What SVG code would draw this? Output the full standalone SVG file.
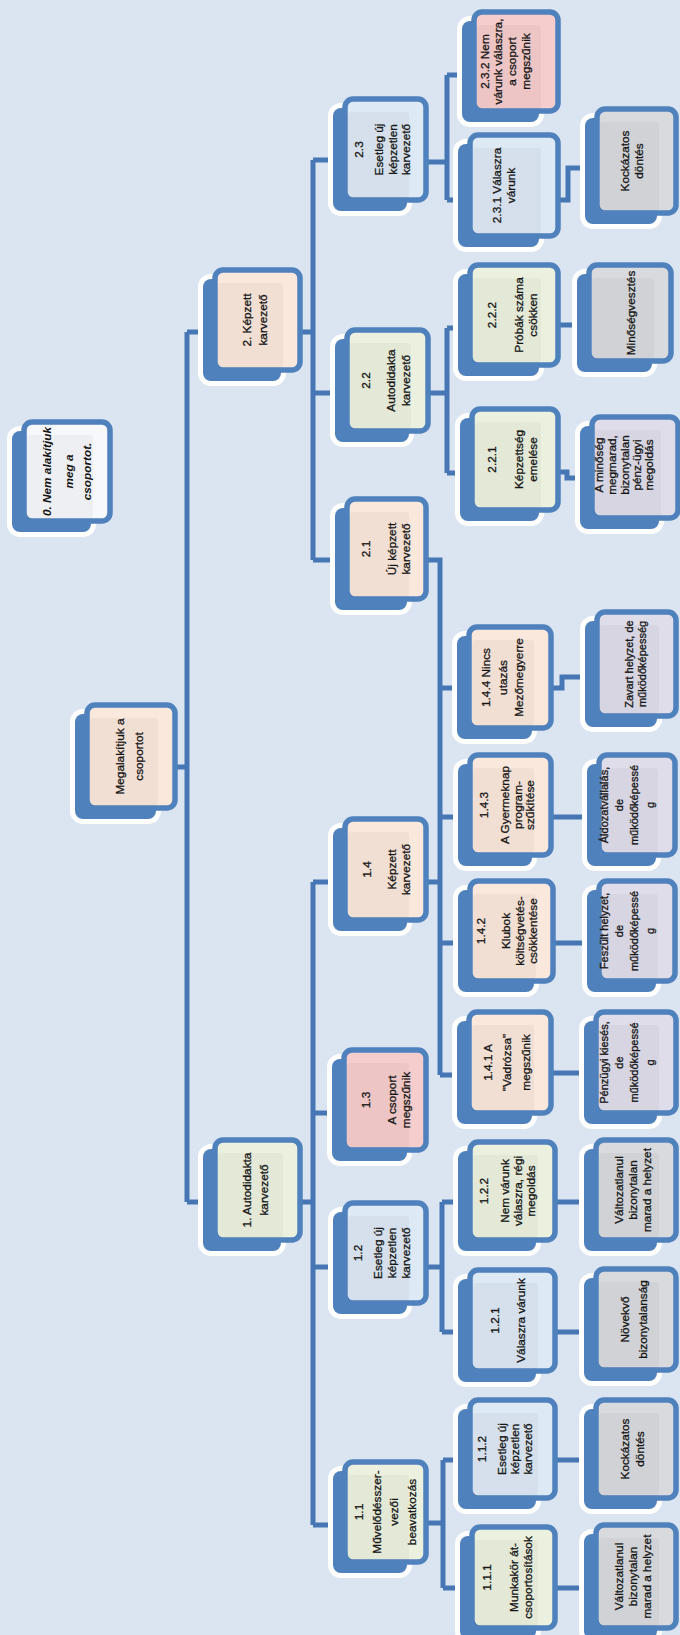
<svg xmlns="http://www.w3.org/2000/svg" width="680" height="1635" viewBox="0 0 680 1635">
<style>
.sh{fill:#4f81bd;stroke:#fff;stroke-width:10;paint-order:stroke}
.fr{stroke:#4f81bd;stroke-width:5.5}
.in{fill:#000;fill-opacity:.035}
.pe{fill:#fbe8dc}.gr{fill:#ecf1df}.bl{fill:#dde9f5}.pk{fill:#f6cdcd}.gy{fill:#d9dadd}.lv{fill:#e0ddeb}.wh{fill:#f6f8fb}
.c{fill:none;stroke:#4776b4;stroke-width:5}
text{font-family:"Liberation Sans",Arial,sans-serif;font-size:11.8px;fill:#161616;stroke:#161616;stroke-width:.3;text-anchor:middle}
.sm{font-size:11px}
.it{font-weight:bold;font-style:italic;stroke-width:0}
</style>
<rect width="680" height="1635" fill="#dbe5f1"/>
<g id="connectors" class="c">
<path d="M177,767 H187 M187,332 V1202 M187,332 H210 M187,1202 H210"/>
<path d="M302,332 H313 M313,160 V560 M313,160 H340 M313,393 H340 M313,560 H340"/>
<path d="M302,1202 H313 M313,882 V1525 M313,882 H340 M313,1113 H340 M313,1267 H340 M313,1525 H340"/>
<path d="M428,162 H447 M447,75 V200 M447,75 H465 M447,200 H465"/>
<path d="M560,200 H568 V168 H590"/>
<path d="M430,393 H447 M447,328 V473 M447,328 H465 M447,473 H465"/>
<path d="M560,325 H590"/>
<path d="M560,472 H567 V478 H590"/>
<path d="M428,560 H440 V1075 M440,688 H462 M440,817 H462 M440,943 H462 M440,1075 H462 M428,882 H440"/>
<path d="M553,688 H562 V677 H590"/>
<path d="M553,817 H590 M555,943 H590 M553,1073 H590"/>
<path d="M428,1267 H442 M442,1202 V1332 M442,1202 H462 M442,1332 H462"/>
<path d="M557,1202 H590 M557,1332 H590"/>
<path d="M428,1523 H443 M443,1460 V1588 M443,1460 H462 M443,1588 H462"/>
<path d="M557,1460 H590 M557,1588 H590"/>
</g>

<g id="n-root"><rect class="sh" x="75" y="714" width="81" height="105" rx="8"/><rect class="fr pe" x="87" y="705" width="88" height="103" rx="8"/><rect class="in" x="90" y="718" width="68" height="88" rx="3"/>
<text transform="rotate(-90)"><tspan x="-756.5" y="124">Megalakítjuk a</tspan><tspan x="-756.5" y="143">csoportot</tspan></text></g>

<g id="n-0"><rect class="sh" x="12" y="431" width="79" height="101" rx="8"/><rect class="fr wh" x="24" y="422" width="86" height="99" rx="8"/><rect class="in" x="27" y="435" width="66" height="84" rx="3"/>
<text class="it" transform="rotate(-90)"><tspan x="-471.5" y="51">0. Nem alakítjuk</tspan><tspan x="-471.5" y="73">meg a</tspan><tspan x="-471.5" y="91">csoportot.</tspan></text></g>

<g id="n-2"><rect class="sh" x="203" y="279" width="78" height="102" rx="8"/><rect class="fr pe" x="215" y="270" width="85" height="100" rx="8"/><rect class="in" x="218" y="283" width="65" height="85" rx="3"/>
<text transform="rotate(-90)"><tspan x="-320" y="251">2. Képzett</tspan><tspan x="-320" y="267">karvezető</tspan></text></g>

<g id="n-1"><rect class="sh" x="203" y="1149" width="78" height="102" rx="8"/><rect class="fr gr" x="215" y="1140" width="85" height="100" rx="8"/><rect class="in" x="218" y="1153" width="65" height="85" rx="3"/>
<text transform="rotate(-90)"><tspan x="-1190" y="251">1. Autodidakta</tspan><tspan x="-1190" y="268">karvezető</tspan></text></g>

<g id="n-2-3"><rect class="sh" x="333" y="108" width="74" height="103" rx="8"/><rect class="fr bl" x="345" y="99" width="81" height="101" rx="8"/><rect class="in" x="348" y="112" width="61" height="86" rx="3"/>
<text transform="rotate(-90)"><tspan x="-149.5" y="363">2.3</tspan><tspan x="-149.5" y="383">Esetleg új</tspan><tspan x="-149.5" y="397">képzetlen</tspan><tspan x="-149.5" y="410">karvezető</tspan></text></g>

<g id="n-2-2"><rect class="sh" x="335" y="339" width="74" height="103" rx="8"/><rect class="fr gr" x="347" y="330" width="81" height="101" rx="8"/><rect class="in" x="350" y="343" width="61" height="86" rx="3"/>
<text transform="rotate(-90)"><tspan x="-380.5" y="370">2.2</tspan><tspan x="-380.5" y="395">Autodidakta</tspan><tspan x="-380.5" y="410">karvezető</tspan></text></g>

<g id="n-2-1"><rect class="sh" x="335" y="508" width="72" height="102" rx="8"/><rect class="fr pe" x="347" y="499" width="79" height="100" rx="8"/><rect class="in" x="350" y="512" width="59" height="85" rx="3"/>
<text transform="rotate(-90)"><tspan x="-549" y="370">2.1</tspan><tspan x="-549" y="396">Új képzett</tspan><tspan x="-549" y="410">karvezető</tspan></text></g>

<g id="n-1-4"><rect class="sh" x="333" y="828" width="74" height="103" rx="8"/><rect class="fr pe" x="345" y="819" width="81" height="101" rx="8"/><rect class="in" x="348" y="832" width="61" height="86" rx="3"/>
<text transform="rotate(-90)"><tspan x="-869.5" y="371">1.4</tspan><tspan x="-869.5" y="396">Képzett</tspan><tspan x="-869.5" y="410">karvezető</tspan></text></g>

<g id="n-1-3"><rect class="sh" x="332" y="1059" width="75" height="102" rx="8"/><rect class="fr pk" x="344" y="1050" width="82" height="100" rx="8"/><rect class="in" x="347" y="1063" width="62" height="85" rx="3"/>
<text transform="rotate(-90)"><tspan x="-1100" y="370">1.3</tspan><tspan x="-1100" y="396">A csoport</tspan><tspan x="-1100" y="410">megszűnik</tspan></text></g>

<g id="n-1-2"><rect class="sh" x="333" y="1212" width="74" height="102" rx="8"/><rect class="fr bl" x="345" y="1203" width="81" height="100" rx="8"/><rect class="in" x="348" y="1216" width="61" height="85" rx="3"/>
<text transform="rotate(-90)"><tspan x="-1253" y="362">1.2</tspan><tspan x="-1253" y="382">Esetleg új</tspan><tspan x="-1253" y="396">képzetlen</tspan><tspan x="-1253" y="410">karvezető</tspan></text></g>

<g id="n-1-1"><rect class="sh" x="333" y="1471" width="74" height="102" rx="8"/><rect class="fr gr" x="345" y="1462" width="81" height="100" rx="8"/><rect class="in" x="348" y="1475" width="61" height="85" rx="3"/>
<text transform="rotate(-90)"><tspan x="-1512" y="363">1.1</tspan><tspan x="-1512" y="381">Művelődésszer-</tspan><tspan x="-1512" y="398">vezői</tspan><tspan x="-1512" y="416">beavatkozás</tspan></text></g>

<g id="n-2-3-2"><rect class="sh" x="462" y="21" width="77" height="101" rx="8"/><rect class="fr pk" x="474" y="12" width="84" height="99" rx="8"/><rect class="in" x="477" y="25" width="64" height="84" rx="3"/>
<text transform="rotate(-90)"><tspan x="-61.5" y="489">2.3.2  Nem</tspan><tspan x="-61.5" y="502">várunk válaszra,</tspan><tspan x="-61.5" y="516">a csoport</tspan><tspan x="-61.5" y="530">megszűnik</tspan></text></g>

<g id="n-2-3-1"><rect class="sh" x="458" y="144" width="81" height="103" rx="8"/><rect class="fr bl" x="470" y="135" width="88" height="101" rx="8"/><rect class="in" x="473" y="148" width="68" height="86" rx="3"/>
<text transform="rotate(-90)"><tspan x="-185.5" y="501">2.3.1 Válaszra</tspan><tspan x="-185.5" y="515">várunk</tspan></text></g>

<g id="n-2-2-2"><rect class="sh" x="458" y="274" width="81" height="102" rx="8"/><rect class="fr gr" x="470" y="265" width="88" height="100" rx="8"/><rect class="in" x="473" y="278" width="68" height="85" rx="3"/>
<text transform="rotate(-90)"><tspan x="-315" y="496">2.2.2</tspan><tspan x="-315" y="523">Próbák száma</tspan><tspan x="-315" y="537">csökken</tspan></text></g>

<g id="n-2-2-1"><rect class="sh" x="460" y="418" width="79" height="103" rx="8"/><rect class="fr gr" x="472" y="409" width="86" height="101" rx="8"/><rect class="in" x="475" y="422" width="66" height="86" rx="3"/>
<text transform="rotate(-90)"><tspan x="-459.5" y="496">2.2.1</tspan><tspan x="-459.5" y="523">Képzettség</tspan><tspan x="-459.5" y="537">emelése</tspan></text></g>

<g id="n-1-4-4"><rect class="sh" x="457" y="636" width="75" height="103" rx="8"/><rect class="fr pe" x="469" y="627" width="82" height="101" rx="8"/><rect class="in" x="472" y="640" width="62" height="86" rx="3"/>
<text transform="rotate(-90)"><tspan x="-677.5" y="490">1.4.4 Nincs</tspan><tspan x="-677.5" y="507">utazás</tspan><tspan x="-677.5" y="523">Mezőmegyerre</tspan></text></g>

<g id="n-1-4-3"><rect class="sh" x="458" y="764" width="74" height="102" rx="8"/><rect class="fr pe" x="470" y="755" width="81" height="100" rx="8"/><rect class="in" x="473" y="768" width="61" height="85" rx="3"/>
<text transform="rotate(-90)"><tspan x="-805" y="488">1.4.3</tspan><tspan x="-805" y="509">A Gyermeknap</tspan><tspan x="-805" y="522">program-</tspan><tspan x="-805" y="534">szűkítése</tspan></text></g>

<g id="n-1-4-2"><rect class="sh" x="458" y="890" width="76" height="102" rx="8"/><rect class="fr pe" x="470" y="881" width="83" height="100" rx="8"/><rect class="in" x="473" y="894" width="63" height="85" rx="3"/>
<text transform="rotate(-90)"><tspan x="-931" y="485">1.4.2</tspan><tspan x="-931" y="510">Klubok</tspan><tspan x="-931" y="524">költségvetés-</tspan><tspan x="-931" y="537">csökkentése</tspan></text></g>

<g id="n-1-4-1"><rect class="sh" x="457" y="1021" width="75" height="103" rx="8"/><rect class="fr pe" x="469" y="1012" width="82" height="101" rx="8"/><rect class="in" x="472" y="1025" width="62" height="86" rx="3"/>
<text transform="rotate(-90)"><tspan x="-1062.5" y="492">1.4.1 A</tspan><tspan x="-1062.5" y="511">"Vadrózsa"</tspan><tspan x="-1062.5" y="530">megszűnik</tspan></text></g>

<g id="n-1-2-2"><rect class="sh" x="458" y="1151" width="78" height="100" rx="8"/><rect class="fr gr" x="470" y="1142" width="85" height="98" rx="8"/><rect class="in" x="473" y="1155" width="65" height="83" rx="3"/>
<text transform="rotate(-90)"><tspan x="-1191" y="488">1.2.2</tspan><tspan x="-1191" y="509">Nem várunk</tspan><tspan x="-1191" y="522">válaszra, régi</tspan><tspan x="-1191" y="535">megoldás</tspan></text></g>

<g id="n-1-2-1"><rect class="sh" x="458" y="1279" width="78" height="103" rx="8"/><rect class="fr bl" x="470" y="1270" width="85" height="101" rx="8"/><rect class="in" x="473" y="1283" width="65" height="86" rx="3"/>
<text transform="rotate(-90)"><tspan x="-1320.5" y="499">1.2.1</tspan><tspan x="-1320.5" y="525">Válaszra várunk</tspan></text></g>

<g id="n-1-1-2"><rect class="sh" x="458" y="1409" width="78" height="100" rx="8"/><rect class="fr bl" x="470" y="1400" width="85" height="98" rx="8"/><rect class="in" x="473" y="1413" width="65" height="83" rx="3"/>
<text transform="rotate(-90)"><tspan x="-1449" y="486">1.1.2</tspan><tspan x="-1449" y="506">Esetleg új</tspan><tspan x="-1449" y="519">képzetlen</tspan><tspan x="-1449" y="532">karvezető</tspan></text></g>

<g id="n-1-1-1"><rect class="sh" x="460" y="1536" width="76" height="103" rx="8"/><rect class="fr gr" x="472" y="1527" width="83" height="101" rx="8"/><rect class="in" x="475" y="1540" width="63" height="86" rx="3"/>
<text transform="rotate(-90)"><tspan x="-1577.5" y="491">1.1.1</tspan><tspan x="-1577.5" y="518">Munkakör át-</tspan><tspan x="-1577.5" y="532">csoportosítások</tspan></text></g>

<g id="r-2-3-1"><rect class="sh" x="585" y="118" width="72" height="106" rx="8"/><rect class="fr gy" x="597" y="109" width="79" height="104" rx="8"/><rect class="in" x="600" y="122" width="59" height="89" rx="3"/>
<text transform="rotate(-90)"><tspan x="-161" y="629">Kockázatos</tspan><tspan x="-161" y="643">döntés</tspan></text></g>

<g id="r-2-2-2"><rect class="sh" x="577" y="274" width="75" height="98" rx="8"/><rect class="fr gy" x="589" y="265" width="82" height="96" rx="8"/><rect class="in" x="592" y="278" width="62" height="81" rx="3"/>
<text transform="rotate(-90)"><tspan x="-313" y="635">Minőségvesztés</tspan></text></g>

<g id="r-2-2-1"><rect class="sh" x="580" y="426" width="79" height="103" rx="8"/><rect class="fr lv" x="592" y="417" width="86" height="101" rx="8"/><rect class="in" x="595" y="430" width="66" height="86" rx="3"/>
<text transform="rotate(-90)"><tspan x="-465" y="603">A minőség</tspan><tspan x="-465" y="616">megmarad,</tspan><tspan x="-465" y="629">bizonytalan</tspan><tspan x="-465" y="641">pénz-ügyi</tspan><tspan x="-465" y="653">megoldás</tspan></text></g>

<g id="r-1-4-4"><rect class="sh" x="585" y="621" width="72" height="106" rx="8"/><rect class="fr lv" x="597" y="612" width="79" height="104" rx="8"/><rect class="in" x="600" y="625" width="59" height="89" rx="3"/>
<text class="sm" transform="rotate(-90)"><tspan x="-664" y="633">Zavart helyzet, de</tspan><tspan x="-664" y="646">működőképesség</tspan></text></g>

<g id="r-1-4-3"><rect class="sh" x="587" y="764" width="69" height="102" rx="8"/><rect class="fr lv" x="599" y="755" width="76" height="100" rx="8"/><rect class="in" x="602" y="768" width="56" height="85" rx="3"/>
<text class="sm" transform="rotate(-90)"><tspan x="-805" y="608">Áldozatvállalás,</tspan><tspan x="-805" y="623">de</tspan><tspan x="-805" y="638">működőképessé</tspan><tspan x="-805" y="654">g</tspan></text></g>

<g id="r-1-4-2"><rect class="sh" x="587" y="890" width="69" height="102" rx="8"/><rect class="fr lv" x="599" y="881" width="76" height="100" rx="8"/><rect class="in" x="602" y="894" width="56" height="85" rx="3"/>
<text class="sm" transform="rotate(-90)"><tspan x="-931" y="608">Feszült helyzet,</tspan><tspan x="-931" y="623">de</tspan><tspan x="-931" y="638">működőképessé</tspan><tspan x="-931" y="654">g</tspan></text></g>

<g id="r-1-4-1"><rect class="sh" x="584" y="1021" width="73" height="103" rx="8"/><rect class="fr lv" x="596" y="1012" width="80" height="101" rx="8"/><rect class="in" x="599" y="1025" width="60" height="86" rx="3"/>
<text class="sm" transform="rotate(-90)"><tspan x="-1062.5" y="608">Pénzügyi kiesés,</tspan><tspan x="-1062.5" y="623">de</tspan><tspan x="-1062.5" y="638">működőképessé</tspan><tspan x="-1062.5" y="654">g</tspan></text></g>

<g id="r-1-2-2"><rect class="sh" x="584" y="1149" width="73" height="102" rx="8"/><rect class="fr gy" x="596" y="1140" width="80" height="100" rx="8"/><rect class="in" x="599" y="1153" width="60" height="85" rx="3"/>
<text transform="rotate(-90)"><tspan x="-1190" y="623">Változatlanul</tspan><tspan x="-1190" y="637">bizonytalan</tspan><tspan x="-1190" y="651">marad a helyzet</tspan></text></g>

<g id="r-1-2-1"><rect class="sh" x="584" y="1278" width="73" height="103" rx="8"/><rect class="fr gy" x="596" y="1269" width="80" height="101" rx="8"/><rect class="in" x="599" y="1282" width="60" height="86" rx="3"/>
<text transform="rotate(-90)"><tspan x="-1319.5" y="629">Növekvő</tspan><tspan x="-1319.5" y="647">bizonytalanság</tspan></text></g>

<g id="r-1-1-2"><rect class="sh" x="584" y="1409" width="73" height="100" rx="8"/><rect class="fr gy" x="596" y="1400" width="80" height="98" rx="8"/><rect class="in" x="599" y="1413" width="60" height="83" rx="3"/>
<text transform="rotate(-90)"><tspan x="-1449" y="629">Kockázatos</tspan><tspan x="-1449" y="644">döntés</tspan></text></g>

<g id="r-1-1-1"><rect class="sh" x="584" y="1534" width="73" height="105" rx="8"/><rect class="fr gy" x="596" y="1525" width="80" height="103" rx="8"/><rect class="in" x="599" y="1538" width="60" height="88" rx="3"/>
<text transform="rotate(-90)"><tspan x="-1576.5" y="623">Változatlanul</tspan><tspan x="-1576.5" y="637">bizonytalan</tspan><tspan x="-1576.5" y="651">marad a helyzet</tspan></text></g>
</svg>
